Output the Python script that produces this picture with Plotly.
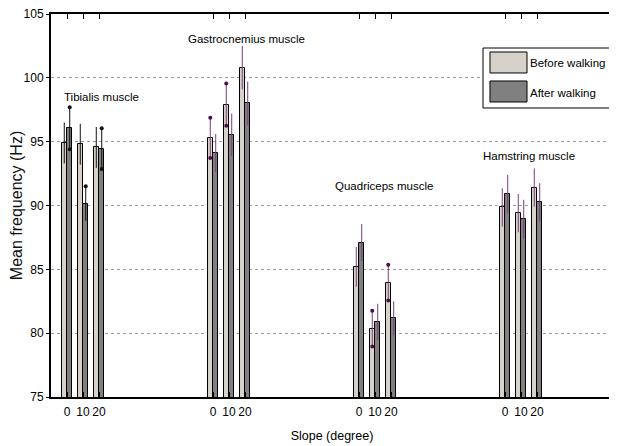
import plotly.graph_objects as go

# ---------------- data ----------------
muscles = ["Tibialis muscle", "Gastrocnemius muscle", "Quadriceps muscle", "Hamstring muscle"]
slopes = ["0", "10", "20"]
before_mean = [94.9, 94.8, 94.55, 95.3, 97.9, 100.8, 85.2, 80.35, 83.95, 89.85, 89.4, 91.4]
before_err = [1.6, 1.6, 1.6, 1.57, 1.66, 1.7, 1.55, 1.4, 1.4, 1.5, 1.5, 1.5]
after_mean = [96.05, 90.15, 94.45, 94.1, 95.55, 98.0, 87.1, 80.9, 81.15, 90.9, 88.95, 90.25]
after_err = [1.65, 1.35, 1.6, 1.5, 1.65, 1.7, 1.45, 1.4, 1.35, 1.5, 1.5, 1.5]
# which error-bar ends carry a dot marker
before_dots = ["", "", "", "both", "both", "", "", "both", "both", "", "", ""]
after_dots = ["both", "top", "both", "", "", "", "", "", "", "", "", ""]

# ---------------- layout helpers ----------------
GROUP_STEP = 9.125
BAR_W = 0.34
positions = [g * GROUP_STEP + i for g in range(len(muscles)) for i in range(len(slopes))]
ticktext = [s for _ in muscles for s in slopes]
muscle_of = [g for g in range(len(muscles)) for _ in slopes]

FONT = "Liberation Sans, Arial, sans-serif"
BEFORE_COL = "#d6d2ca"
AFTER_COL = "#808080"
ERR_COLS = ["#111111", "#7d3c7d", "#7d3c7d", "#7d3c7d"]
DOT_COLS = ["#111111", "#4a0c4a", "#4a0c4a", "#4a0c4a"]

fig = go.Figure()

x_before = [p - BAR_W / 2 for p in positions]
x_after = [p + BAR_W / 2 for p in positions]

fig.add_trace(go.Bar(x=x_before, y=before_mean, width=BAR_W, name="Before walking",
                     marker=dict(color=BEFORE_COL, line=dict(color="black", width=1)),
                     showlegend=False))
fig.add_trace(go.Bar(x=x_after, y=after_mean, width=BAR_W, name="After walking",
                     marker=dict(color=AFTER_COL, line=dict(color="black", width=1)),
                     showlegend=False))

# error bars (per muscle colour)
for g in range(len(muscles)):
    ex, ey, dx, dy = [], [], [], []
    for xs, means, errs, dots in ((x_before, before_mean, before_err, before_dots),
                                  (x_after, after_mean, after_err, after_dots)):
        for k in range(len(positions)):
            if muscle_of[k] != g:
                continue
            lo, hi = means[k] - errs[k], means[k] + errs[k]
            ex += [xs[k], xs[k], None]
            ey += [lo, hi, None]
            if dots[k] in ("both", "top"):
                dx.append(xs[k]); dy.append(hi)
            if dots[k] in ("both", "bottom"):
                dx.append(xs[k]); dy.append(lo)
    fig.add_trace(go.Scatter(x=ex, y=ey, mode="lines", line=dict(color=ERR_COLS[g], width=1),
                             showlegend=False, hoverinfo="skip"))
    if dx:
        fig.add_trace(go.Scatter(x=dx, y=dy, mode="markers",
                                 marker=dict(color=DOT_COLS[g], size=4),
                                 showlegend=False, hoverinfo="skip"))

# muscle labels
label_x = [2.125, 11.19, 19.81, 28.9]
label_y = [98.5, 103.05, 91.55, 93.9]
for name, lx, ly in zip(muscles, label_x, label_y):
    fig.add_annotation(x=lx, y=ly, text=name, showarrow=False,
                       font=dict(family=FONT, size=11.5, color="black"))

# custom legend (paper coords)
fig.add_shape(type="rect", xref="paper", yref="paper", x0=0.7687, x1=0.9982, y0=0.7546, y1=0.9112,
              fillcolor="white", line=dict(color="black", width=1))
fig.add_shape(type="rect", xref="paper", yref="paper", x0=0.7811, x1=0.8470, y0=0.8460, y1=0.9008,
              fillcolor=BEFORE_COL, line=dict(color="black", width=1))
fig.add_shape(type="rect", xref="paper", yref="paper", x0=0.7811, x1=0.8470, y0=0.7702, y1=0.8251,
              fillcolor=AFTER_COL, line=dict(color="black", width=1))
fig.add_annotation(xref="paper", yref="paper", x=0.8490, y=0.8721, xanchor="left", yanchor="middle",
                   text="Before walking", showarrow=False,
                   font=dict(family=FONT, size=11.5, color="black"))
fig.add_annotation(xref="paper", yref="paper", x=0.8490, y=0.7937, xanchor="left", yanchor="middle",
                   text="After walking", showarrow=False,
                   font=dict(family=FONT, size=11.5, color="black"))

# the page body adds an 8px margin, so the figure is sized/offset to compensate
fig.update_layout(
    width=609, height=438,
    margin=dict(l=43, r=4, t=6, b=49),
    plot_bgcolor="white", paper_bgcolor="white",
    barmode="overlay", bargap=0,
    showlegend=False,
    xaxis=dict(range=[-1, 34.125], tickvals=positions, ticktext=ticktext, tickangle=0,
               ticks="inside", ticklen=5, tickcolor="black", mirror="ticks",
               showline=True, linecolor="black", linewidth=2, showgrid=False, zeroline=False,
               automargin=False, ticklabelstandoff=3,
               tickfont=dict(family=FONT, size=12, color="black"),
               title=dict(text="Slope (degree)", font=dict(family=FONT, size=12.5, color="black"),
                          standoff=13)),
    yaxis=dict(range=[75, 105], dtick=5, ticks="outside", ticklen=3, tickcolor="black",
               showline=True, linecolor="black", linewidth=2, zeroline=False,
               showgrid=True, gridcolor="#9a9a9a", griddash="dot", gridwidth=1,
               automargin=False, ticklabeloverflow="allow",
               tickfont=dict(family=FONT, size=12, color="black"),
               title=dict(text="Mean frequency (Hz)", font=dict(family=FONT, size=16, color="#111111"),
                          standoff=0)),
)

fig.write_html("out.html")
